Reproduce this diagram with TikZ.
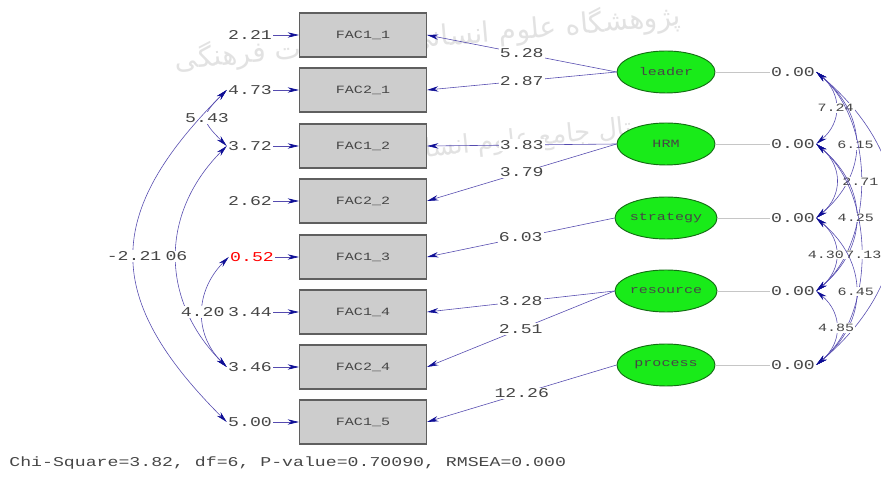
\documentclass[tikz,border=0pt]{standalone}
\usepackage{fontspec}
\usepackage{tikz}
\usetikzlibrary{arrows.meta,shapes.geometric}
\newfontfamily\lisfont[FakeStretch=1.35]{Liberation Mono}
\newfontfamily\farsifont[Script=Arabic]{DejaVu Sans}
\TeXXeTstate=1
\definecolor{boxGray}{RGB}{205,205,205}
\definecolor{edgeGray}{RGB}{95,95,95}
\definecolor{latGreen}{RGB}{25,235,25}
\definecolor{latEdge}{RGB}{20,110,20}
\definecolor{pathBlue}{RGB}{85,75,175}
\definecolor{tipBlue}{RGB}{15,15,150}
\definecolor{txtGray}{RGB}{70,70,70}
\definecolor{wmGray}{RGB}{226,226,226}

\begin{document}
\begin{tikzpicture}[x=0.03cm,y=0.03cm,
    box/.style={draw=edgeGray, line width=0.9pt, fill=boxGray, minimum width=3.81cm,
      minimum height=1.32cm, font=\lisfont\fontsize{9.5}{10}\selectfont, text=txtGray},
    latent/.style={ellipse, draw=latEdge, line width=0.8pt, fill=latGreen, minimum width=2.94cm,
      minimum height=1.26cm, inner sep=0pt, font=\lisfont\fontsize{9.5}{10}\selectfont, text=txtGray},
    num/.style={font=\lisfont\fontsize{11.5}{12}\selectfont, text=txtGray, inner sep=1pt},
    onpath/.style={num, fill=white},
    small/.style={onpath, font=\lisfont\fontsize{9.5}{10}\selectfont},
    load/.style={pathBlue, line width=0.5pt, -{Stealth[length=3.4mm,width=1.6mm,color=tipBlue]}},
    cov/.style={pathBlue, line width=0.5pt, {Stealth[length=3.4mm,width=1.6mm,color=tipBlue]}-{Stealth[length=3.4mm,width=1.6mm,color=tipBlue]}}]
  \useasboundingbox (0,0) rectangle (881,486);
  \clip (0,0) rectangle (881,486);

  % watermark
  \node[text=wmGray, font=\farsifont\fontsize{24}{26}\selectfont, rotate=5] (wmtop) at (428,448)
    {\beginR پژوهشگاه علوم انسانی و مطالعات فرهنگی\endR};
  \node[text=wmGray, font=\farsifont\fontsize{22}{24}\selectfont, rotate=6] (wmlow) at (525,346)
    {\beginR پرتال جامع علوم انسانی\endR};

  % observed variables
  \node[box] (f1) at (363,451) {FAC1\_1};
  \node[box] (f2) at (363,396) {FAC2\_1};
  \node[box] (f3) at (363,340) {FAC1\_2};
  \node[box] (f4) at (363,285) {FAC2\_2};
  \node[box] (f5) at (363,229) {FAC1\_3};
  \node[box] (f6) at (363,174) {FAC1\_4};
  \node[box] (f7) at (363,119) {FAC2\_4};
  \node[box] (f8) at (363,64)  {FAC1\_5};

  % error terms
  \node[num] (e1) at (250,451) {2.21};
  \node[num] (e2) at (250,396) {4.73};
  \node[num] (e3) at (250,340) {3.72};
  \node[num] (e4) at (250,285) {2.62};
  \node[num, text=red] (e5) at (252,229) {0.52};
  \node[num] (e6) at (250,174) {3.44};
  \node[num] (e7) at (250,119) {3.46};
  \node[num] (e8) at (250,64)  {5.00};
  \foreach \i in {1,...,8}
    \draw[load] (e\i) -- (f\i);

  % error covariances
  \draw[cov] (e2.west) to[out=225,in=135,looseness=1.7] node[onpath] {5.43} (e3.west);
  \draw[cov] (e3.west) to[out=225,in=135,looseness=1.1] node[onpath] {06} (e7.west);
  \draw[cov] (e2.west) to[out=225,in=135,looseness=1.35] node[onpath] {-2.21} (e8.west);
  \draw[cov] (e5.west) to[out=225,in=135,looseness=1.1] node[onpath] {4.20} (e7.west);

  % latent variables
  \node[latent] (leader)   at (666,414) {leader};
  \node[latent] (hrm)      at (666,342) {HRM};
  \node[latent] (strategy) at (666,268) {strategy};
  \node[latent] (resource) at (666,195) {resource};
  \node[latent] (process)  at (666,121) {process};

  % loadings
  \draw[load] (leader.west) -- node[onpath] {5.28} (f1.east);
  \draw[load] (leader.west) -- node[onpath] {2.87} (f2.east);
  \draw[load] (hrm.west) -- node[onpath] {3.83} (f3.east);
  \draw[load] (hrm.west) -- node[onpath] {3.79} (f4.east);
  \draw[load] (strategy.west) -- node[onpath] {6.03} (f5.east);
  \draw[load] (resource.west) -- node[onpath] {3.28} (f6.east);
  \draw[load] (resource.west) -- node[onpath] {2.51} (f7.east);
  \draw[load] (process.west) -- node[onpath] {12.26} (f8.east);

  % latent variances
  \node[num] (v1) at (793,414) {0.00};
  \node[num] (v2) at (793,342) {0.00};
  \node[num] (v3) at (793,268) {0.00};
  \node[num] (v4) at (793,195) {0.00};
  \node[num] (v5) at (793,121) {0.00};
  \draw[gray!45] (leader) -- (v1);
  \draw[gray!45] (hrm) -- (v2);
  \draw[gray!45] (strategy) -- (v3);
  \draw[gray!45] (resource) -- (v4);
  \draw[gray!45] (process) -- (v5);

  % latent covariances
  \draw[cov] (v2.east) to[out=-40,in=40,looseness=1.2] (v3.east);
  \draw[cov] (v1.east) to[out=-40,in=40,looseness=1.2] (v5.east);
  \draw[cov] (v1.east) to[out=-40,in=40,looseness=1.2] node[small] {7.24} (v2.east);
  \draw[cov] (v1.east) to[out=-40,in=40,looseness=1.2] node[small] {6.15} (v3.east);
  \draw[cov] (v1.east) to[out=-40,in=40,looseness=0.9] node[small] {2.71} (v4.east);
  \draw[cov] (v2.east) to[out=-40,in=40,looseness=1.2] node[small] {4.25} (v4.east);
  \draw[cov] (v2.east) to[out=-40,in=40,looseness=0.9] node[small, xshift=0.08cm] {7.13} (v5.east);
  \draw[cov] (v3.east) to[out=-40,in=40,looseness=1.2] node[small, xshift=-0.3cm] {4.30} (v4.east);
  \draw[cov] (v3.east) to[out=-40,in=40,looseness=1.2] node[small] {6.45} (v5.east);
  \draw[cov] (v4.east) to[out=-40,in=40,looseness=1.2] node[small] {4.85} (v5.east);

  % fit statistics
  \node[num, anchor=west] (fit) at (8,23) {Chi-Square=3.82, df=6, P-value=0.70090, RMSEA=0.000};
\end{tikzpicture}
\end{document}
